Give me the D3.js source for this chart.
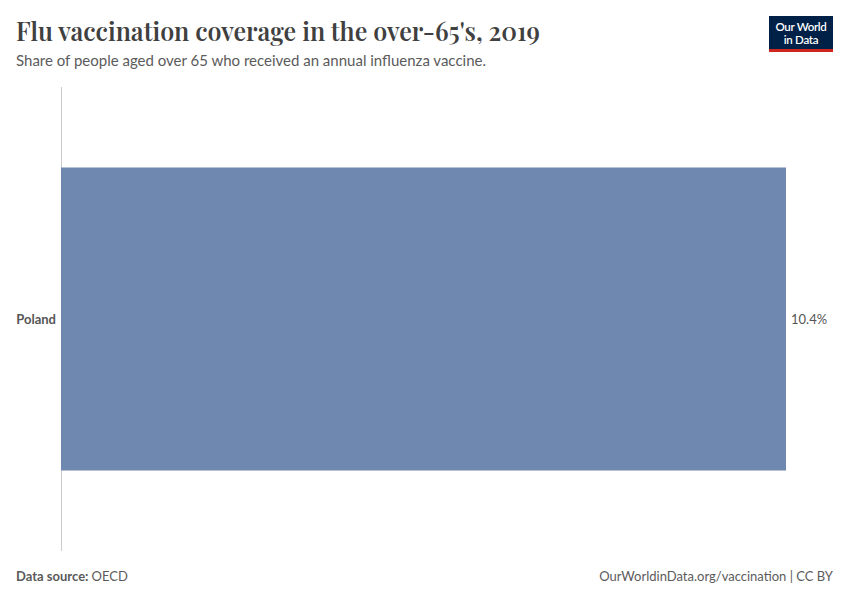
<!DOCTYPE html>
<html><head><meta charset="utf-8">
<script src="https://cdn.jsdelivr.net/npm/d3@7"></script>
<style>body{margin:0;background:#fff}svg{display:block}</style>
</head><body>
<svg id="c" width="850" height="600"></svg>
<script>
const categories = ["Poland"];
const values = [10.4];
const valueLabels = ["10.4%"];

const svg = d3.select("#c");
const W = 850, H = 600;
svg.append("rect").attr("width", W).attr("height", H).attr("fill", "#fff");

svg.append("text").attr("x", 16).attr("y", 41)
  .attr("font-family", "'Playfair Display','Liberation Serif',serif")
  .attr("font-size", 25.5).attr("font-weight", 600).attr("fill", "#404040")
  .attr("textLength", 524).attr("lengthAdjust", "spacingAndGlyphs")
  .text("Flu vaccination coverage in the over-65's, 2019");
svg.append("text").attr("x", 16).attr("y", 66)
  .attr("font-family", "Lato,sans-serif").attr("font-size", 15).attr("fill", "#5b5b5b")
  .text("Share of people aged over 65 who received an annual influenza vaccine.");

// logo
const lg = svg.append("g").attr("transform", "translate(769,16)");
lg.append("rect").attr("width", 64).attr("height", 36).attr("fill", "#002147");
lg.append("rect").attr("y", 33).attr("width", 64).attr("height", 3).attr("fill", "#ce261e");
lg.append("text").attr("x", 32).attr("y", 15).attr("text-anchor", "middle")
  .attr("font-family", "Lato,sans-serif").attr("font-size", 11.5).attr("font-weight", 600).attr("fill", "#fff").attr("letter-spacing", -0.3).text("Our World");
lg.append("text").attr("x", 32).attr("y", 28).attr("text-anchor", "middle")
  .attr("font-family", "Lato,sans-serif").attr("font-size", 11.5).attr("font-weight", 600).attr("fill", "#fff").attr("letter-spacing", -0.3).text("in Data");

const x0 = 61, y0 = 87, y1 = 551;
const x = d3.scaleLinear().domain([0, d3.max(values)]).range([x0, 786]);
const y = d3.scaleBand().domain(categories).range([y0, y1]).paddingInner(0.2).paddingOuter(0.2125);

svg.append("line").attr("x1", x0 + 0.5).attr("x2", x0 + 0.5).attr("y1", y0).attr("y2", y1)
  .attr("stroke", "#ccc").attr("stroke-width", 1);

svg.selectAll("rect.bar").data(categories).join("rect").attr("class", "bar")
  .attr("x", x(0)).attr("y", (d) => y(d))
  .attr("width", (d, i) => x(values[i]) - x(0)).attr("height", y.bandwidth())
  .attr("fill", "#6f88b0");

svg.selectAll("text.cat").data(categories).join("text").attr("class", "cat")
  .attr("x", 56).attr("y", d => y(d) + y.bandwidth() / 2).attr("dy", "0.35em")
  .attr("text-anchor", "end").attr("font-family", "Lato,sans-serif").attr("font-size", 13)
  .attr("font-weight", 700).attr("fill", "#555").text(d => d);

svg.selectAll("text.val").data(categories).join("text").attr("class", "val")
  .attr("x", (d, i) => x(values[i]) + 5).attr("y", d => y(d) + y.bandwidth() / 2).attr("dy", "0.35em")
  .attr("font-family", "Lato,sans-serif").attr("font-size", 13).attr("fill", "#555")
  .text((d, i) => valueLabels[i]);

const ft = svg.append("text").attr("x", 16).attr("y", 581)
  .attr("font-family", "Lato,sans-serif").attr("font-size", 13).attr("fill", "#5b5b5b");
ft.append("tspan").attr("font-weight", 700).text("Data source: ");
ft.append("tspan").text("OECD");
svg.append("text").attr("x", 833).attr("y", 581).attr("text-anchor", "end")
  .attr("font-family", "Lato,sans-serif").attr("font-size", 13).attr("fill", "#5b5b5b")
  .text("OurWorldinData.org/vaccination | CC BY");
</script>
</body></html>
